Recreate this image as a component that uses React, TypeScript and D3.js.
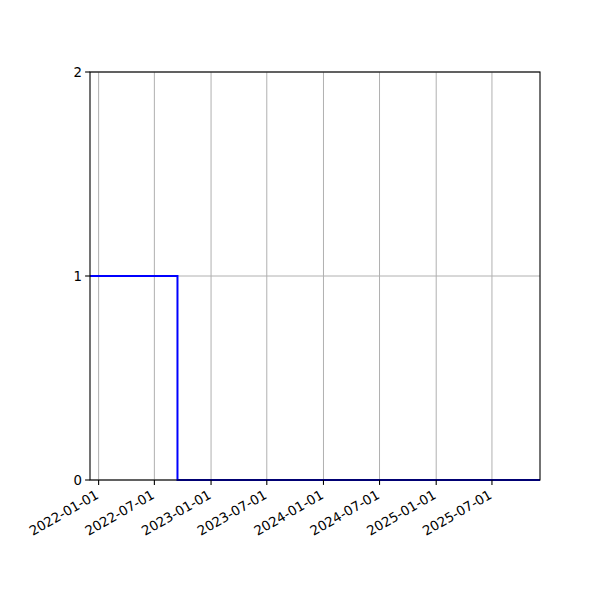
import React from 'react';
import * as d3 from 'd3';

// step series
const dates = ['2021-12-04', '2022-09-14', '2025-12-04'];
const values = [1, 0, 0];
const xTicks = ['2022-01-01', '2022-07-01', '2023-01-01', '2023-07-01', '2024-01-01', '2024-07-01', '2025-01-01', '2025-07-01'];
const yTicks = [0, 1, 2];

const W = 600;
const H = 600;
const margin = { left: 90, right: 60, top: 72, bottom: 120 };

const parse = d3.utcParse('%Y-%m-%d');

const App: React.FC = () => {
  const x = d3.scaleUtc()
    .domain([parse(dates[0])!, parse(dates[dates.length - 1])!])
    .range([margin.left, W - margin.right]);
  const y = d3.scaleLinear().domain([0, 2]).range([H - margin.bottom, margin.top]);

  const pts = dates.map((d, i) => ({ date: parse(d)!, v: values[i] }));
  const line = d3.line<{ date: Date; v: number }>()
    .x(d => x(d.date))
    .y(d => y(d.v))
    .curve(d3.curveStepAfter);

  const x0 = margin.left;
  const x1 = W - margin.right;
  const y0 = H - margin.bottom;
  const y1 = margin.top;
  const font = 'DejaVu Sans, sans-serif';

  return (
    <svg width={W} height={H} style={{ position: 'absolute', left: 0, top: 0, background: '#fff' }}>
      <rect x={0} y={0} width={W} height={H} fill="#fff" />
      {/* grid */}
      {xTicks.map(t => (
        <line key={'gx' + t} x1={x(parse(t)!)} x2={x(parse(t)!)} y1={y0} y2={y1} stroke="#b0b0b0" strokeWidth={1} />
      ))}
      {yTicks.map(t => (
        <line key={'gy' + t} x1={x0} x2={x1} y1={y(t)} y2={y(t)} stroke="#b0b0b0" strokeWidth={1} />
      ))}
      <path d={line(pts) ?? ''} fill="none" stroke="#0000ff" strokeWidth={2} />
      {/* spines drawn over the line, as matplotlib does */}
      <rect x={x0} y={y1} width={x1 - x0} height={y0 - y1} fill="none" stroke="#000" strokeWidth={1.1} />
      {/* x ticks */}
      {xTicks.map(t => {
        const px = x(parse(t)!);
        return (
          <g key={'tx' + t}>
            <line x1={px} x2={px} y1={y0} y2={y0 + 4.9} stroke="#000" strokeWidth={1.1} />
            <text
              transform={`translate(${px - 1},${y0 + 14}) rotate(-30)`}
              textAnchor="end"
              fontFamily={font}
              fontSize={13.3}
              dominantBaseline="middle"
            >{t}</text>
          </g>
        );
      })}
      {/* y ticks */}
      {yTicks.map(t => (
        <g key={'ty' + t}>
          <line x1={x0 - 4.9} x2={x0} y1={y(t)} y2={y(t)} stroke="#000" strokeWidth={1.1} />
          <text x={x0 - 8} y={y(t)} textAnchor="end" dominantBaseline="central" fontFamily={font} fontSize={13.3}>{t}</text>
        </g>
      ))}
    </svg>
  );
};

export default App;
